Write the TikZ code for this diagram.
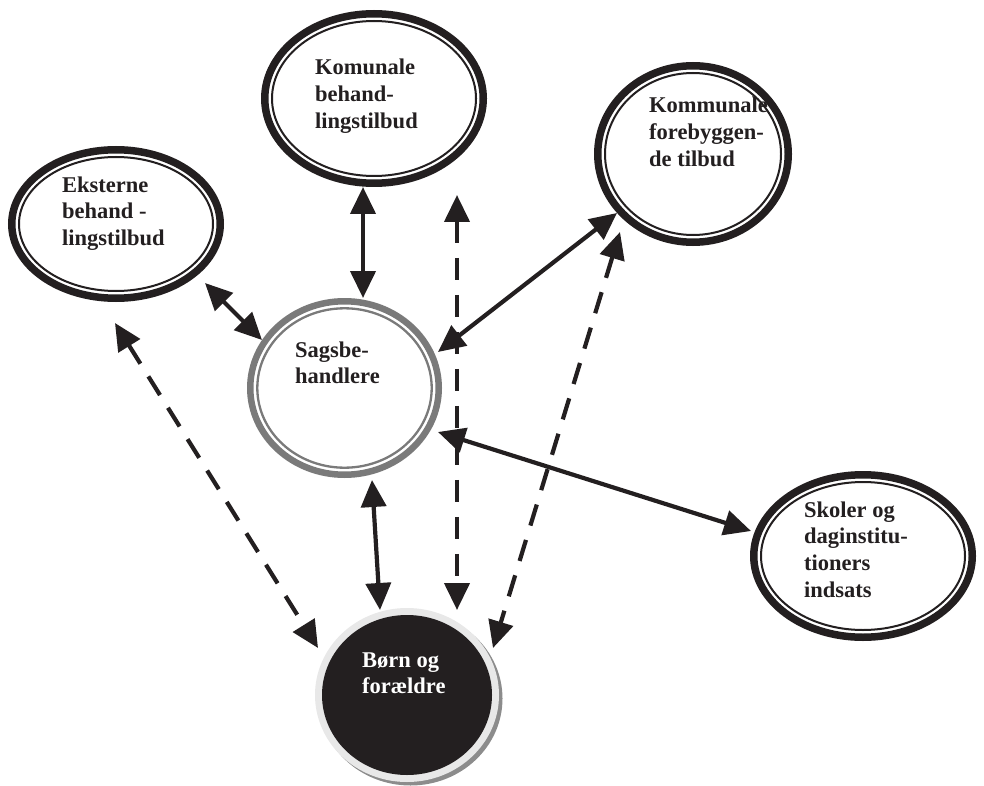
\documentclass[tikz,border=0pt]{standalone}
\usepackage{fontspec}
\setmainfont{Liberation Serif}
\usetikzlibrary{arrows.meta,shapes.geometric}
\definecolor{ink}{RGB}{35,31,32}
\definecolor{ringgray}{RGB}{122,122,122}
\definecolor{paleg}{RGB}{232,232,232}
\definecolor{shadowg}{RGB}{140,140,140}
\begin{document}
\begin{tikzpicture}[x=1pt,y=-1pt,
  ring/.style={ellipse, draw=ink, line width=7.5pt, fill=white, inner sep=0pt},
  thinring/.style={draw=ink, line width=2pt},
  grayring/.style={ellipse, draw=ringgray, line width=6.5pt, fill=white, inner sep=0pt},
  thingray/.style={draw=ringgray, line width=2.3pt},
  lbl/.style={anchor=base west, align=left, inner sep=0pt,
    font=\bfseries\fontsize{22.5}{26.7}\selectfont, text=ink},
  link/.style={draw=ink, line width=4.2pt,
    {Triangle[length=27pt,width=25pt]}-{Triangle[length=27pt,width=25pt]}},
  dlink/.style={link, dash pattern=on 22pt off 15pt}]
\useasboundingbox (0,0) rectangle (984,786);

% Eksterne behandlingstilbud
\node[ring, minimum width=208.5, minimum height=148.5] (E) at (116,224) {};
\draw[thinring] (E.center) ellipse [x radius=97, y radius=67];
\node[lbl] (Et) at (62,245.4) {Eksterne\\behand -\\lingstilbud};

% Komunale behandlingstilbud
\node[ring, minimum width=218.5, minimum height=169.5] (K) at (374,98.5) {};
\draw[thinring] (K.center) ellipse [x radius=102, y radius=77.5];
\node[lbl] (Kt) at (315,128.4) {Komunale\\behand-\\lingstilbud};

% Kommunale forebyggende tilbud
\node[ring, minimum width=190.5, minimum height=176.5] (F) at (693,154) {};
\draw[thinring] (F.center) ellipse [x radius=88, y radius=81];
\node[lbl] (Ft) at (649,166.4) {Kommunale\\forebyggen-\\de tilbud};

% Skoler og daginstitutioners indsats
\node[ring, minimum width=218.5, minimum height=162.5] (Sk) at (863,556) {};
\draw[thinring] (Sk.center) ellipse [x radius=102, y radius=74];
\node[lbl] (Skt) at (804,597.1) {Skoler og\\daginstitu-\\tioners\\indsats};

% Sagsbehandlere
\node[grayring, minimum width=188.5, minimum height=173.5] (S) at (344.5,388) {};
\draw[thingray] (S.center) ellipse [x radius=87.2, y radius=79.7];
\node[lbl] (St) at (295,383.7) {Sagsbe-\\handlere};

% Boern og foraeldre
\fill[shadowg] (410.5,698.5) ellipse [x radius=92, y radius=87];
\node[ellipse, fill=paleg, inner sep=0pt, minimum width=184, minimum height=174] (B) at (407,695) {};
\fill[ink] (B.center) ellipse [x radius=85, y radius=80];
\node[lbl, text=white] (Bt) at (362,693.7) {Børn og\\forældre};

% solid connectors
\draw[link] ([shift={(-11,88.5)}]K.center) -- ([shift={(18.5,-90)}]S.center);
\draw[link] ([shift={(89,59)}]E.center) -- ([shift={(-82.5,-48)}]S.center);
\draw[link] ([shift={(-76,59)}]F.center) -- ([shift={(93.5,-36)}]S.center);
\draw[link] ([shift={(93.5,44)}]S.center) -- ([shift={(-112,-25)}]Sk.center);
\draw[link] ([shift={(27.5,92)}]S.center) -- ([shift={(-27,-85)}]B.center);

% dashed connectors
\draw[dlink] ([shift={(-1,99)}]E.center) -- ([shift={(-89,-47)}]B.center);
\draw[dlink] ([shift={(83,96.5)}]K.center) -- ([shift={(50,-85)}]B.center);
\draw[dlink] ([shift={(-73,78)}]F.center) -- ([shift={(86,-47)}]B.center);
\end{tikzpicture}
\end{document}
